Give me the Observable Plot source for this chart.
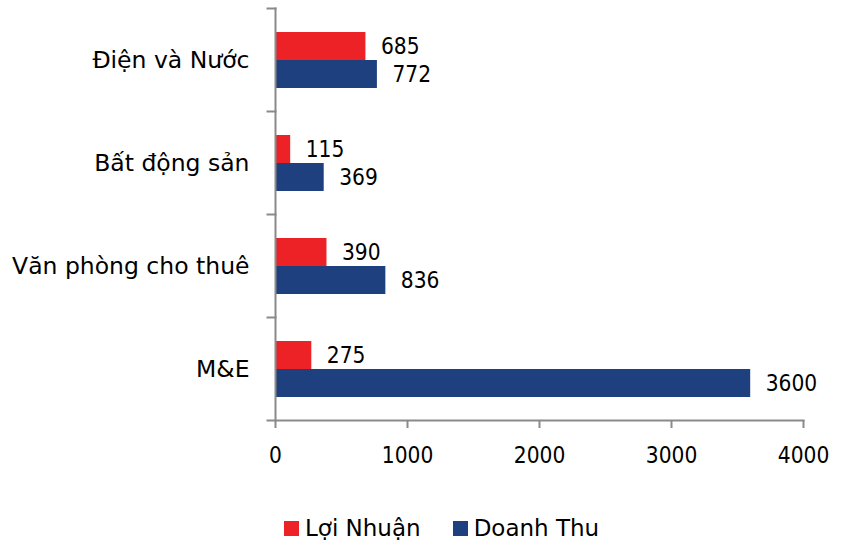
<!DOCTYPE html>
<html><head><meta charset="utf-8">
<script src="https://cdn.jsdelivr.net/npm/d3@7"></script>
<script src="https://cdn.jsdelivr.net/npm/@observablehq/plot@0.6"></script>
<style>
body{margin:0;background:#fff;font-family:"DejaVu Sans",sans-serif;position:relative;width:842px;height:542px;overflow:hidden;}
#legend{position:absolute;left:284px;top:515px;display:flex;align-items:center;font-size:23px;color:#000;font-family:"DejaVu Sans",sans-serif;}
.item{display:flex;align-items:center;margin-right:32px;}
.sw{width:15px;height:15px;margin-right:6px;}
</style></head><body><div id="chart"></div><div id="legend"></div>
<script>
const categories = ["Điện và Nước", "Bất động sản", "Văn phòng cho thuê", "M&E"];
const series = ["Lợi Nhuận", "Doanh Thu"];
const loiNhuan = [685, 115, 390, 275];
const doanhThu = [772, 369, 836, 3600];
const xTicks = [0, 1000, 2000, 3000, 4000];
const colors = ["#ed2227", "#1f407e"];

const rows = categories.flatMap((c, i) => [
  {category: c, series: series[0], value: loiNhuan[i]},
  {category: c, series: series[1], value: doanhThu[i]}
]);

const W = 842, H = 490, ML = 275, MR = 39;
const numFont = '"DejaVu Sans Condensed","DejaVu Sans",sans-serif';
const txtFont = '"DejaVu Sans",sans-serif';
const axisGray = "#8a8a8a";

const chart = Plot.plot({
  width: W, height: H,
  marginLeft: ML, marginRight: MR, marginTop: 7, marginBottom: 70,
  style: {fontFamily: numFont, fontSize: "22px", color: "#000", background: "#fff", overflow: "visible"},
  x: {domain: [0, 4000], axis: null, label: null},
  y: {domain: series, axis: null, label: null, paddingInner: 0, paddingOuter: 0.776},
  fy: {domain: categories, padding: 0, axis: null, label: null},
  color: {domain: series, range: colors},
  marks: [
    Plot.barX(rows, {x: "value", y: "series", fy: "category", fill: "series"}),
    Plot.text(rows, {x: "value", y: "series", fy: "category", text: d => String(d.value), textAnchor: "start", dx: 15, fontSize: 22.5, fontFamily: numFont, fill: "#000"}),
    Plot.frame({anchor: "top", stroke: axisGray, strokeWidth: 2, insetLeft: -8, insetRight: W - ML - MR}),
    Plot.frame({anchor: "left", facet: "super", stroke: axisGray, strokeWidth: 2}),
    Plot.frame({anchor: "bottom", facet: "super", stroke: axisGray, strokeWidth: 2, insetLeft: -8}),
    Plot.axisX({ticks: xTicks, tickFormat: d => String(d), label: null, tickSize: 8, tickPadding: 19, stroke: axisGray, strokeWidth: 2, fill: "#000", fontSize: 22.5, fontFamily: numFont}),
    Plot.axisFy({anchor: "left", label: null, tickSize: 0, tickPadding: 26, fontSize: 23.5, fontFamily: txtFont, fill: "#000"})
  ]
});
document.getElementById("chart").appendChild(chart);

const legend = document.getElementById("legend");
series.forEach((s, i) => {
  const item = document.createElement("div");
  item.className = "item";
  const sw = document.createElement("div");
  sw.className = "sw";
  sw.style.background = colors[i];
  const t = document.createElement("span");
  t.textContent = s;
  item.appendChild(sw);
  item.appendChild(t);
  legend.appendChild(item);
});
</script>
</body></html>
